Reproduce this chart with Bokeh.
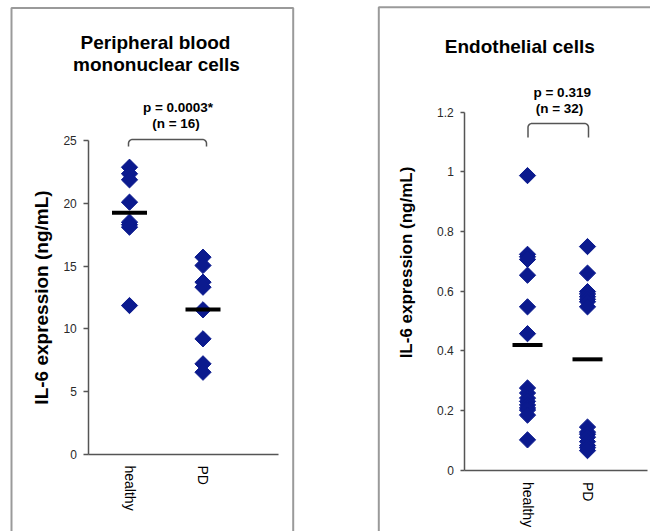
import numpy as np
from bokeh.plotting import figure
from bokeh.layouts import row
from bokeh.models import Range1d, FixedTicker, NumeralTickFormatter, Label
from bokeh.embed import file_html
from bokeh.resources import INLINE

# ---------------- data ----------------
categories = ["healthy", "PD"]

pbmc_healthy = [22.87, 22.35, 21.87, 20.09, 18.50, 18.30, 18.10, 11.86]
pbmc_pd = [15.71, 15.05, 13.72, 13.32, 11.52, 9.21, 7.22, 6.55]
pbmc_means = [19.24, 11.54]
pbmc_ticks = [0, 5, 10, 15, 20, 25]

endo_healthy = [0.987, 0.723, 0.715, 0.706, 0.653, 0.547, 0.457, 0.275, 0.258,
                0.241, 0.230, 0.218, 0.208, 0.201, 0.184, 0.101]
endo_pd = [0.749, 0.660, 0.598, 0.590, 0.581, 0.572, 0.564, 0.547, 0.144,
           0.127, 0.120, 0.110, 0.095, 0.082, 0.075, 0.065]
endo_means = [0.419, 0.371]
endo_ticks = [0, 0.2, 0.4, 0.6, 0.8, 1, 1.2]

pbmc_title = ["Peripheral blood", "mononuclear cells"]
pbmc_stat = ["p = 0.0003*", "(n = 16)"]
endo_title = ["Endothelial cells"]
endo_stat = ["p = 0.319", "(n = 32)"]
ylabel = "IL-6 expression (ng/mL)"

FONT = "Liberation Sans"
NAVY = "#0b1a8e"
H = 531


def make_panel(W, frame, x1px, xs, y0px, ys, axis_x, x_end_px, ytop, ticks,
               healthy, pd_vals, means, dash_len, title, title_lines, stat, stat_lines,
               bracket, ylab, ylab_size, box, tick_out, cat_standoff):
    fl, fr, ft, fb = frame
    x_start = 1 - (x1px - fl) / xs
    x_end = 1 + (fr - x1px) / xs
    y_start = -(fb - y0px) / ys
    y_end = (y0px - ft) / ys

    def px2x(px):
        return 1 + (px - x1px) / xs

    def px2y(py):
        return (y0px - py) / ys

    p = figure(width=W, height=H, x_range=Range1d(x_start, x_end),
               y_range=Range1d(y_start, y_end), output_backend="svg",
               toolbar_location=None, tools="",
               min_border_left=fl, min_border_right=W - fr,
               min_border_top=ft, min_border_bottom=H - fb)
    p.outline_line_color = None
    p.xgrid.visible = False
    p.ygrid.visible = False
    p.background_fill_color = "white"
    p.border_fill_color = "white"

    # outer grey box
    bl, br, bt = box
    if br is not None:
        bx = [px2x(bl), px2x(bl), px2x(br), px2x(br)]
        by = [y_start - 1, px2y(bt), px2y(bt), y_start - 1]
    else:
        bx = [px2x(bl), px2x(bl), x_end + 1]
        by = [y_start - 1, px2y(bt), px2y(bt)]
    p.line(bx, by, line_color="#9a9a9a", line_width=2)

    # axes
    ya = p.yaxis[0]
    ya.fixed_location = px2x(axis_x)
    ya.bounds = (0, ytop)
    ya.ticker = FixedTicker(ticks=ticks)
    ya.formatter = NumeralTickFormatter(format="0.[0]")
    ya.axis_line_color = "#555555"
    ya.axis_line_width = 1.5
    ya.major_tick_line_color = "#555555"
    ya.major_tick_line_width = 1.5
    ya.major_tick_out = tick_out
    ya.major_tick_in = 0
    ya.minor_tick_line_color = None
    ya.major_label_standoff = 7
    ya.major_label_text_font = FONT
    ya.major_label_text_font_size = "12px"
    ya.major_label_text_color = "#2a2a2a"

    xa = p.xaxis[0]
    xa.fixed_location = 0
    xa.bounds = (px2x(axis_x), px2x(x_end_px))
    xa.ticker = FixedTicker(ticks=[1, 2])
    xa.major_label_overrides = {1: categories[0], 2: categories[1]}
    xa.major_label_orientation = "vertical"
    xa.axis_line_color = "#555555"
    xa.axis_line_width = 1.5
    xa.major_tick_line_color = None
    xa.major_tick_out = 0
    xa.major_tick_in = 0
    xa.minor_tick_line_color = None
    xa.major_label_standoff = cat_standoff
    xa.major_label_text_font = FONT
    xa.major_label_text_font_size = "14px"
    xa.major_label_text_color = "#000000"

    # data points
    p.scatter([1] * len(healthy), healthy, marker="square", angle=np.pi / 4,
              size=11.5, fill_color=NAVY, line_color=NAVY)
    p.scatter([2] * len(pd_vals), pd_vals, marker="square", angle=np.pi / 4,
              size=11.5, fill_color=NAVY, line_color=NAVY)
    p.scatter([1, 2], means, marker="dash", size=dash_len, line_color="black",
              line_width=4)

    # bracket
    x0b, x1b, yt, yb = bracket
    r = 4.0
    t = np.linspace(0, np.pi / 2, 8)
    left_arc_x = x0b + r - r * np.cos(t)
    left_arc_y = yt + r - r * np.sin(t)
    right_arc_x = x1b - r + r * np.sin(t)
    right_arc_y = yt + r - r * np.cos(t)
    bxs = np.concatenate([[x0b], left_arc_x, right_arc_x, [x1b]])
    bys = np.concatenate([[yb], left_arc_y, right_arc_y, [yb]])
    p.line([px2x(v) for v in bxs], [px2y(v) for v in bys], line_color="#555555",
           line_width=1.5)

    # titles and stats
    for (cx, base), txt in zip(title_lines, title):
        p.add_layout(Label(x=px2x(cx), y=px2y(base), text=txt, text_font=FONT,
                           text_font_size="19px", text_font_style="bold",
                           text_align="center", text_baseline="alphabetic",
                           text_color="black"))
    for (cx, base), txt in zip(stat_lines, stat):
        p.add_layout(Label(x=px2x(cx), y=px2y(base), text=txt, text_font=FONT,
                           text_font_size="13.5px", text_font_style="bold",
                           text_align="center", text_baseline="alphabetic",
                           text_color="black"))
    lx, ly = ylab
    p.add_layout(Label(x=px2x(lx), y=px2y(ly), text=ylabel, text_font=FONT,
                       text_font_size=ylab_size, text_font_style="bold",
                       text_align="center", text_baseline="middle",
                       angle=np.pi / 2, text_color="black"))
    return p


p1 = make_panel(W=330, frame=(8, 296, 4, 531), x1px=129, xs=73.5, y0px=454, ys=12.56,
                axis_x=88.3, x_end_px=277.7, ytop=25, ticks=pbmc_ticks,
                healthy=pbmc_healthy, pd_vals=pbmc_pd, means=pbmc_means, dash_len=35,
                title=pbmc_title, title_lines=[(155, 42.3), (156, 64.3)],
                stat=pbmc_stat, stat_lines=[(177.5, 106.5), (175.5, 122.5)],
                bracket=(128, 206, 139, 146), ylab=(41, 297), ylab_size="19px",
                box=(11, 292.7, 7.4), tick_out=5, cat_standoff=11)

p2 = make_panel(W=320, frame=(45, 320, 4, 531), x1px=197, xs=60, y0px=469.5, ys=298.3,
                axis_x=134.3, x_end_px=317, ytop=1.2, ticks=endo_ticks,
                healthy=endo_healthy, pd_vals=endo_pd, means=endo_means, dash_len=30,
                title=endo_title, title_lines=[(189.3, 45.7)],
                stat=endo_stat, stat_lines=[(231.7, 91.7), (229, 107.5)],
                bracket=(197.5, 258, 123, 137), ylab=(75.8, 262), ylab_size="17px",
                box=(48.3, None, 6.8), tick_out=4, cat_standoff=12)

layout = row(p1, p2)
open("out.html", "w").write(file_html(layout, INLINE))
